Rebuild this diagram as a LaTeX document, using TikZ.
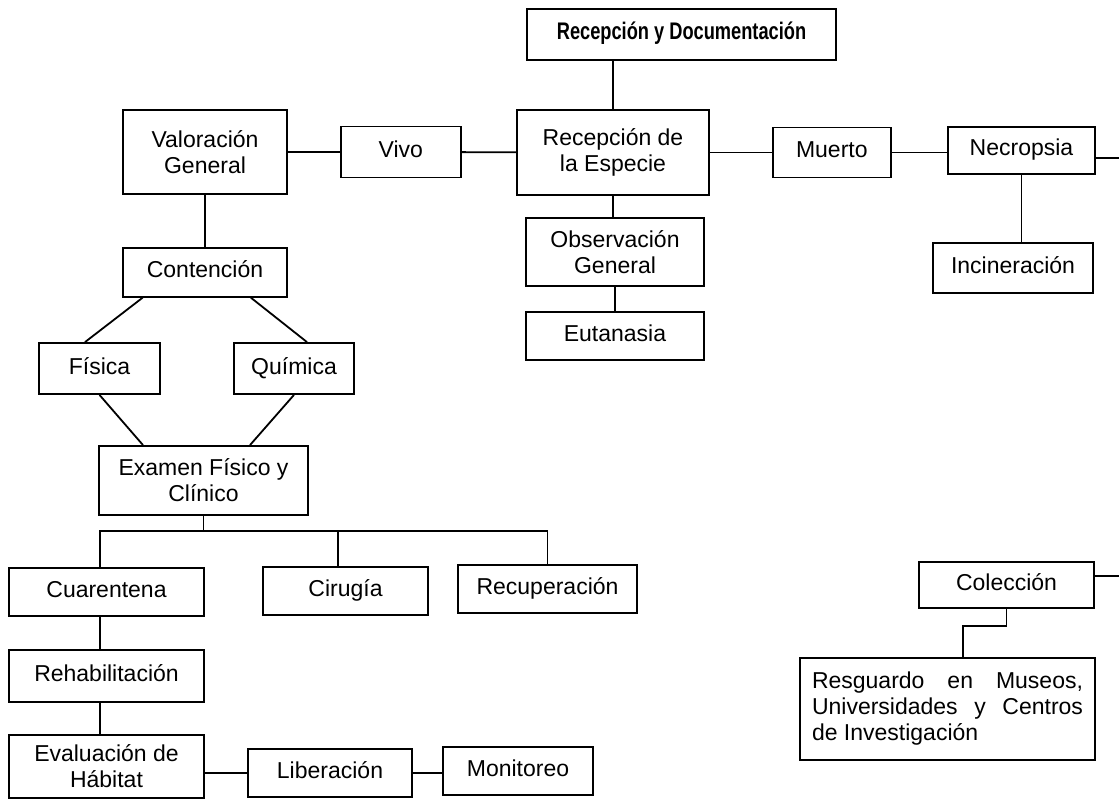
\documentclass[tikz,border=0pt]{standalone}
\usepackage{fontspec}
\setmainfont{Liberation Sans}
\newfontfamily\headfont[FakeStretch=0.76]{Liberation Sans}
\usetikzlibrary{positioning}
\newcommand{\stagefont}{\fontsize{23}{26}\selectfont}

\begin{document}
\begin{tikzpicture}[x=1pt,y=-1pt,auto,align=center,line width=1.8pt,
					main node/.style={draw,font=\stagefont,inner sep=2pt},
					one line/.style={text height=17pt,text depth=6pt}]

					\useasboundingbox (0,0) rectangle (1119,799);

					\node[main node,one line,minimum width=309pt,minimum height=51pt,
						font=\headfont\bfseries\fontsize{24}{27}\selectfont] (doc) at (681.5,34.5) {Recepción y Documentación};
					\node[main node,minimum width=192pt,minimum height=85pt] (rec) at (613,152.5) {Recepción de\\la Especie};
					\node[main node,minimum width=178pt,minimum height=68pt] (obs) at (615,252) {Observación\\General};
					\node[main node,one line,minimum width=178pt,minimum height=48pt] (eut) [below=24pt of obs] {Eutanasia};
					\node[main node,one line,minimum width=118pt,minimum height=50pt] (muerto) [right=62pt of rec] {Muerto};
					\node[main node,one line,minimum width=147pt,minimum height=47pt] (necro) at (1021.5,150.5) {Necropsia};
					\node[main node,one line,minimum width=160pt,minimum height=50pt] (incin) at (1013,268) {Incineración};

					\node[main node,minimum width=164pt,minimum height=84pt] (valor) at (205,152) {Valoración\\General};
					\node[main node,one line,minimum width=120pt,minimum height=51pt] (vivo) [right=52pt of valor] {Vivo};
					\node[main node,one line,minimum width=164pt,minimum height=49pt] (conten) [below=52pt of valor] {Contención};
					\node[main node,one line,minimum width=121pt,minimum height=51pt] (fisica) at (99.5,368.5) {Física};
					\node[main node,one line,minimum width=120pt,minimum height=51pt] (quimica) at (294,368.5) {Química};
					\node[main node,minimum width=209pt,minimum height=69pt] (examen) at (203.5,480.5) {Examen Físico y\\Clínico};

					\node[main node,one line,minimum width=195pt,minimum height=48pt] (cuar) at (106.5,592) {Cuarentena};
					\node[main node,one line,minimum width=165pt,minimum height=48pt] (ciru) at (345.5,591) {Cirugía};
					\node[main node,one line,minimum width=179pt,minimum height=48pt] (recup) at (547.5,589) {Recuperación};
					\node[main node,one line,minimum width=195pt,minimum height=52pt] (rehab) at (106.5,676) {Rehabilitación};
					\node[main node,minimum width=195pt,minimum height=63pt] (evalu) at (106.5,766.5) {Evaluación de\\Hábitat};
					\node[main node,one line,minimum width=164pt,minimum height=48pt] (liber) at (330,773) {Liberación};
					\node[main node,one line,minimum width=150pt,minimum height=48pt] (monit) at (518,771) {Monitoreo};

					\node[main node,one line,minimum width=175pt,minimum height=46pt] (colec) at (1006.5,585) {Colección};
					\node[main node,minimum width=295pt,minimum height=102pt,text width=271pt,align=justify] (resg) at (947.5,709)
						{Resguardo en Museos,\linebreak Universidades y Centros\linebreak de Investigación};

					% loose ends leaving the page
					\coordinate (necroout) at (1119,158);
					\coordinate (colecout) at (1119,576);
					\coordinate (fork) at (203.5,531);

					\path
					(doc.south -| rec.north) edge (rec.north)
					(rec.south) edge (rec.south |- obs.north)
					(obs) edge (eut)
					(valor) edge (vivo)
					(vivo) edge (rec)
					(rec) edge (muerto)
					(muerto.east) edge (muerto.east -| necro.west)
					(necro.east |- necroout) edge (necroout)
					(necro.south) edge (necro.south |- incin.north)
					(valor) edge (conten)
					([xshift=20.5pt]conten.south west) edge ([xshift=-14.5pt]fisica.north)
					([xshift=-37pt]conten.south east) edge ([xshift=13pt]quimica.north)
					(fisica.south) edge ([xshift=-60.5pt]examen.north)
					(quimica.south) edge ([xshift=46.5pt]examen.north)
					(examen.south) edge (fork)
					([xshift=-7.5pt]ciru.north) edge ([xshift=-7.5pt]ciru.north |- fork)
					([xshift=-6.5pt]cuar.south) edge ([xshift=-6.5pt]rehab.north)
					([xshift=-6.5pt]rehab.south) edge ([xshift=-6.5pt]evalu.north)
					(liber.west) edge (liber.west -| evalu.east)
					(liber.east) edge (liber.east -| monit.west)
					(colec.east |- colecout) edge (colecout);

					\draw ([xshift=-6.5pt]cuar.north) |- (fork) -| (recup.north);
					\draw (colec.south) -- ++(0,17) -| ([xshift=15.5pt]resg.north);

				\end{tikzpicture}
\end{document}
